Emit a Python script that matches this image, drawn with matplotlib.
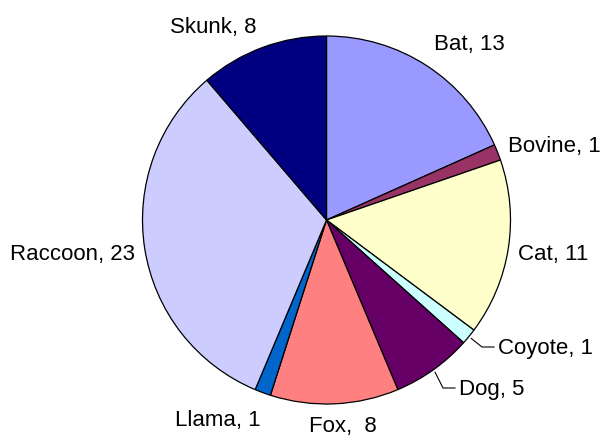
import numpy as np
import matplotlib
matplotlib.use("Agg")
import matplotlib.pyplot as plt

# Rabies cases by animal
animals = ["Bat", "Bovine", "Cat", "Coyote", "Dog", "Fox", "Llama", "Raccoon", "Skunk"]
counts = [13, 1, 11, 1, 5, 8, 1, 23, 8]
colors = ["#9999FF", "#993366", "#FFFFCC", "#CCFFFF", "#660066",
          "#FF8080", "#0066CC", "#CCCCFF", "#000080"]

# Label anchors (left x, baseline y) in pixel space, y measured from the top
label_pos = [(434, 50), (508, 152), (518, 260), (498, 354), (459, 395),
             (309, 432), (175, 426), (10, 260), (170, 33)]
# Wedges whose labels get a leader line
leader = {"Coyote", "Dog"}

W, H = 602, 437
fig = plt.figure(figsize=(W / 100, H / 100), dpi=100)
ax = fig.add_axes([0, 0, 1, 1])

cx, cy, R = 326.5, H - 220, 184
wedges, _ = ax.pie(counts, colors=colors, startangle=90, counterclock=False,
                   center=(cx, cy), radius=R, frame=True,
                   wedgeprops=dict(edgecolor="black", linewidth=0.9))
ax.set_xlim(0, W)
ax.set_ylim(0, H)
ax.set_aspect("equal")
ax.axis("off")

font = dict(family=["Liberation Sans", "DejaVu Sans"], size=16, color="black")
for w, name, n, (lx, ly) in zip(wedges, animals, counts, label_pos):
    text = f"{name},  {n}" if name == "Fox" else f"{name}, {n}"
    ty = H - ly
    ax.text(lx, ty, text, ha="left", va="baseline", **font)
    if name in leader:
        mid = np.deg2rad((w.theta1 + w.theta2) / 2)
        sx, sy = cx + (R + 3) * np.cos(mid), cy + (R + 3) * np.sin(mid)
        ly_line = ty + 7
        bx = lx - 16
        ax.plot([sx, bx, lx - 4], [sy, ly_line, ly_line], color="black", lw=0.8)

fig.savefig("out.png", dpi=100)
